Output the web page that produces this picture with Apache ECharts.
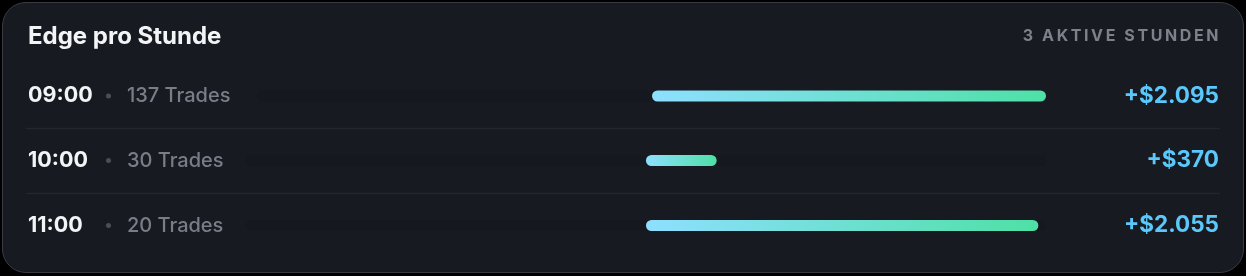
<!DOCTYPE html>
<html><head><meta charset="utf-8">
<script src="https://cdn.jsdelivr.net/npm/echarts@6/dist/echarts.min.js"></script>
<style>
html,body{margin:0;padding:0;background:#000;}
#wrap{position:relative;width:1246px;height:276px;overflow:hidden;background:#000;}
#card{position:absolute;left:2px;top:2px;width:1240px;height:269px;border:1.5px solid #383b42;border-radius:24px;background:#171a21;}
#c{position:absolute;left:0;top:0;width:1246px;height:276px;}
</style>
</head><body>
<div id="wrap"><div id="card"></div><div id="c"></div></div>
<script>
const title = 'Edge pro Stunde';
const subtitle = '3 AKTIVE STUNDEN';
const hours = ['09:00', '10:00', '11:00'];
const trades = [137, 30, 20];
const edge = [2095, 370, 2055];

function fmtMoney(v) {
  const s = String(Math.round(Math.abs(v))).replace(/\B(?=(\d{3})+(?!\d))/g, '.');
  return (v >= 0 ? '+' : '-') + '$' + s;
}

const chart = echarts.init(document.getElementById('c'), null, {renderer: 'canvas'});
const FONT = 'Inter, "Noto Sans", sans-serif';
const rowCenters = [96, 160.5, 225.5];
const trackLeft = [258, 246, 246];
const trackRight = 1046;
const valueRight = 1219;
const textLeft = 28;
const maxAbs = Math.max(...edge.map(Math.abs));

const grids = [], xAxes = [], yAxes = [], series = [];
hours.forEach((h, i) => {
  grids.push({left: trackLeft[i], width: trackRight - trackLeft[i], top: rowCenters[i] - 15, height: 30});
  xAxes.push({gridIndex: i, type: 'value', min: -maxAbs, max: maxAbs, show: false});
  yAxes.push({
    gridIndex: i, type: 'category', data: [h],
    axisLine: {show: false}, axisTick: {show: false}, splitLine: {show: false},
    axisLabel: {
      align: 'left', margin: trackLeft[i] - textLeft,
      formatter: () => '{t|' + h + '}{g1| }{d| }{g2| }{n|' + trades[i] + ' Trades}',
      rich: {
        t: {fontFamily: FONT, fontSize: 21.5, fontWeight: 700, color: '#f3f4f6', width: 64},
        g1: {width: 14},
        d: {width: 5, height: 5, backgroundColor: '#4a4e57', borderRadius: 2.5},
        g2: {width: 16},
        n: {fontFamily: FONT, fontSize: 20, fontWeight: 500, color: '#787d88'}
      }
    }
  });
  yAxes.push({
    gridIndex: i, type: 'category', position: 'right', data: [fmtMoney(edge[i])],
    axisLine: {show: false}, axisTick: {show: false}, splitLine: {show: false},
    axisLabel: {align: 'right', margin: valueRight - trackRight, fontFamily: FONT, fontSize: 22.5, fontWeight: 700, color: '#5ac8fa'}
  });
  series.push({
    type: 'bar', xAxisIndex: i, yAxisIndex: i * 2, data: [edge[i]],
    barWidth: 11, showBackground: true,
    backgroundStyle: {color: '#15181e', borderRadius: 6},
    itemStyle: {
      borderRadius: 6,
      color: new echarts.graphic.LinearGradient(0, 0, 1, 0, [
        {offset: 0, color: '#8edfff'}, {offset: 1, color: '#4ee0a6'}
      ])
    },
    silent: true, animation: false
  });
});

const graphics = [
  {type: 'text', left: textLeft, top: 25, style: {text: title, font: '700 24px ' + FONT, fill: '#f3f4f6'}},
  {type: 'text', right: 1246 - valueRight + 0.5, top: 28, style: {
    text: subtitle.split('').map(c => '{c|' + c + '}').join(''),
    rich: {c: {fontFamily: FONT, fontSize: 16, fontWeight: 700, fill: '#7c818c', padding: [0, 2.6, 0, 0]}}
  }}
];
for (let k = 0; k < rowCenters.length - 1; k++) {
  const y = Math.round((rowCenters[k] + rowCenters[k + 1]) / 2) + 0.5;
  graphics.push({type: 'line', shape: {x1: 26, y1: y, x2: 1220, y2: y}, style: {stroke: '#23262d', lineWidth: 1.5}, silent: true});
}

chart.setOption({
  animation: false,
  backgroundColor: 'transparent',
  grid: grids, xAxis: xAxes, yAxis: yAxes, series: series,
  graphic: graphics
});
</script>
</body></html>
